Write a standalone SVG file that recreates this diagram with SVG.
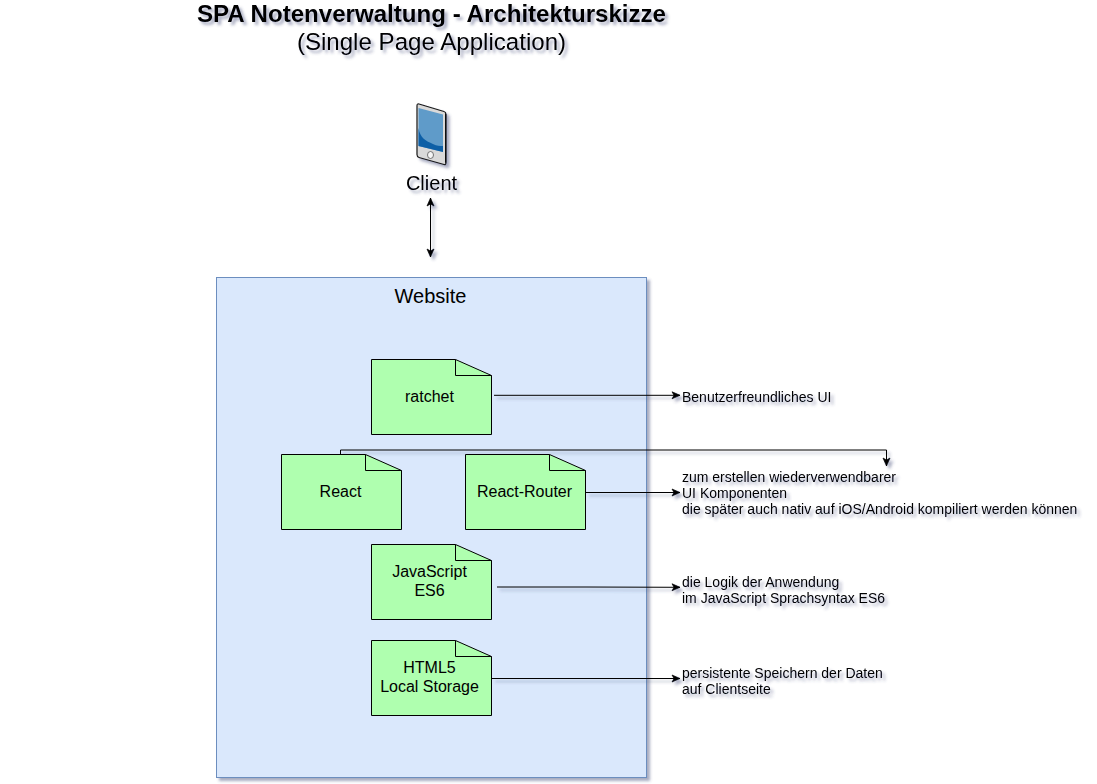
<svg xmlns="http://www.w3.org/2000/svg" width="1097" height="784" viewBox="0 0 1097 784">
<style>
text{font-family:"Liberation Sans",Arial,sans-serif;fill:#000}
.t{font-size:16px;text-anchor:middle}
.s{font-size:14px}
.n{fill:#afffaf;stroke:#000;stroke-width:1}
.f{fill:none;stroke:#000;stroke-width:1;stroke-linejoin:round}
.c{fill:none;stroke:#000;stroke-width:1}
.sh{filter:url(#ds)}
</style>
<defs>
<filter id="ds" filterUnits="userSpaceOnUse" x="0" y="0" width="1097" height="784">
<feGaussianBlur in="SourceAlpha" stdDeviation="1.7"/>
<feOffset dx="3" dy="3" result="b"/>
<feFlood flood-color="#3d4574" flood-opacity="0.45"/>
<feComposite in2="b" operator="in" result="sb"/>
<feMerge><feMergeNode in="sb"/><feMergeNode in="SourceGraphic"/></feMerge>
</filter>
<marker id="a" viewBox="-1 -1 10 10" refX="8" refY="4" markerWidth="10" markerHeight="10" markerUnits="userSpaceOnUse" orient="auto-start-reverse">
<path d="M0 0.500L8 4L0 7.500L2 4Z" fill="#000" stroke="#000" stroke-width="0.700"/>
</marker>
</defs>
<g id="title" class="sh">
<text x="431.500" y="22" font-size="24.100" font-weight="bold" text-anchor="middle">SPA Notenverwaltung - Architekturskizze</text>
<text x="431.500" y="50" font-size="24.100" text-anchor="middle">(Single Page Application)</text>
</g>
<g id="website">
<rect x="216.500" y="277.500" width="430" height="500" fill="#dae8fc" stroke="#6c8ebf" class="sh"/>
<text x="430.500" y="303" font-size="20" text-anchor="middle">Website</text>
</g>
<g id="client">
<g class="sh">
<path d="M417 105.500Q417 103.500 419 104L444 111.500Q446 112 446 114.500V162.500Q446 165 444 164.500L419 157.500Q417 157 417 154.500Z" fill="#d9d9d9" stroke="#1a1a1a" stroke-width="1.200"/>
<path d="M445 113V163l1.200-.5V114Z" fill="#111"/>
<path d="M418.500 108L443 114.500V152L418.500 146Z" fill="#5f9bc9"/>
<path d="M418.500 128C420 138 426 141 433 144C437 146 440 146 443 146V152L418.500 146Z" fill="#0f5fa6"/>
<ellipse cx="430.500" cy="155" rx="3" ry="3.500" fill="#f5f5f5" stroke="#555" stroke-width="0.800"/>
</g>
<text class="sh" x="431.500" y="190" font-size="20" text-anchor="middle">Client</text>
</g>
<g id="connectors" class="sh">
<path class="c" d="M430.500 198V257" marker-start="url(#a)" marker-end="url(#a)"/>
<path class="c" d="M494 395.300H680" marker-end="url(#a)"/>
<path class="c" d="M340.500 454V450H886.500V466" marker-end="url(#a)"/>
<path class="c" d="M586 492.500H680" marker-end="url(#a)"/>
<path class="c" d="M497 587H586L680 587.300" marker-end="url(#a)"/>
<path class="c" d="M492 678.500H680" marker-end="url(#a)"/>
</g>
<g id="ratchet">
<path class="n" d="M371.500 359.500H455.500L491.500 375.500V434.500H371.500Z"/><path class="f" d="M455.500 359.500V375.500H491.500"/>
<text class="t" x="429.500" y="402">ratchet</text>
</g>
<g id="react">
<path class="n" d="M281.500 454.500H365.500L401.500 470.500V529.500H281.500Z"/><path class="f" d="M365.500 454.500V470.500H401.500"/>
<text class="t" x="340.500" y="497">React</text>
</g>
<g id="react-router">
<path class="n" d="M465.500 454.500H549.500L585.500 470.500V529.500H465.500Z"/><path class="f" d="M549.500 454.500V470.500H585.500"/>
<text class="t" x="524.500" y="497">React-Router</text>
</g>
<g id="javascript">
<path class="n" d="M371.500 544.500H455.500L491.500 560.500V619.500H371.500Z"/><path class="f" d="M455.500 544.500V560.500H491.500"/>
<text class="t" x="429.500" y="577">JavaScript</text><text class="t" x="429.500" y="596">ES6</text>
</g>
<g id="localstorage">
<path class="n" d="M371.500 640.500H455.500L491.500 656.500V715.500H371.500Z"/><path class="f" d="M455.500 640.500V656.500H491.500"/>
<text class="t" x="429.500" y="673">HTML5</text><text class="t" x="429.500" y="692">Local Storage</text>
</g>
<g id="notes" class="sh">
<text class="s" x="682" y="402">Benutzerfreundliches UI</text>
<text class="s" x="682" y="482">zum erstellen wiederverwendbarer</text>
<text class="s" x="682" y="498">UI Komponenten</text>
<text class="s" x="682" y="514">die später auch nativ auf iOS/Android kompiliert werden können</text>
<text class="s" x="682" y="587">die Logik der Anwendung</text>
<text class="s" x="682" y="603">im JavaScript Sprachsyntax ES6</text>
<text class="s" x="682" y="678">persistente Speichern der Daten</text>
<text class="s" x="682" y="694">auf Clientseite</text>
</g>
</svg>
